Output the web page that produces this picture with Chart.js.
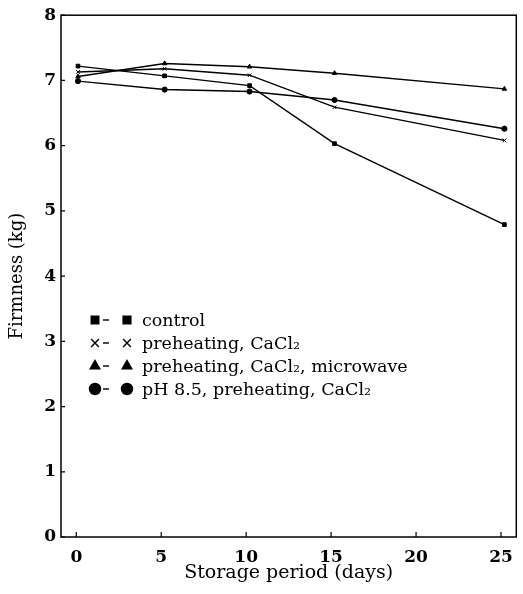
<!DOCTYPE html>
<html>
<head>
<meta charset="utf-8">
<script src="https://cdn.jsdelivr.net/npm/chart.js@4/dist/chart.umd.min.js"></script>
<style>
  html, body { margin: 0; padding: 0; background: #fff; }
  #wrap { width: 523px; height: 594px; }
</style>
</head>
<body>
<div id="wrap"><canvas id="firmness" width="523" height="594"></canvas></div>
<script>
// storage days where firmness was measured
const days = [0.1, 5.2, 10.2, 15.2, 25.2];

// firmness (kg) per treatment
const control = [7.22, 7.07, 6.92, 6.03, 4.79];
const preheatCaCl2 = [7.13, 7.18, 7.08, 6.59, 6.08];
const preheatMicrowave = [7.06, 7.26, 7.21, 7.11, 6.87];
const ph85 = [6.99, 6.86, 6.83, 6.70, 6.26];

const legendLabels = [
  'control',
  'preheating, CaCl\u2082',
  'preheating, CaCl\u2082, microwave',
  'pH 8.5, preheating, CaCl\u2082'
];
const markerStyles = ['rect', 'crossRot', 'triangle', 'circle'];

const xTicks = [0, 5, 10, 15, 20, 25];
const yTicks = [0, 1, 2, 3, 4, 5, 6, 7, 8];

const serif = '"DejaVu Serif", "Liberation Serif", serif';

const series = [control, preheatCaCl2, preheatMicrowave, ph85];

const datasets = series.map((vals, i) => ({
  label: legendLabels[i],
  data: vals.map((v, j) => ({ x: days[j], y: v })),
  borderColor: '#000',
  backgroundColor: '#000',
  borderWidth: 1.4,
  pointStyle: markerStyles[i],
  pointRadius: 2.6,
  pointBorderWidth: 1,
  tension: 0
}));

// box frame, inward ticks and the in-plot legend
const framePlugin = {
  id: 'frame',
  afterDraw(chart) {
    const ctx = chart.ctx;
    const a = chart.chartArea;
    const xs = chart.scales.x;
    const ys = chart.scales.y;
    ctx.save();
    ctx.strokeStyle = '#000';
    ctx.lineWidth = 1.5;
    ctx.strokeRect(a.left, a.top, a.right - a.left, a.bottom - a.top);

    ctx.lineWidth = 1.2;
    ctx.beginPath();
    xTicks.forEach(t => {
      const px = xs.getPixelForValue(t);
      ctx.moveTo(px, a.bottom);
      ctx.lineTo(px, a.bottom - 5);
    });
    yTicks.forEach(t => {
      const py = ys.getPixelForValue(t);
      ctx.moveTo(a.left, py);
      ctx.lineTo(a.left + 4, py);
    });
    ctx.stroke();

    // legend
    const lx = 95, rowY0 = 320, rowGap = 23;
    ctx.font = '17.5px ' + serif;
    ctx.textBaseline = 'middle';
    legendLabels.forEach((lab, i) => {
      const y = rowY0 + i * rowGap;
      const opts = { pointStyle: markerStyles[i], radius: 5.5, borderWidth: 1.5, rotation: 0 };
      ctx.fillStyle = '#000';
      ctx.strokeStyle = '#000';
      Chart.helpers.drawPoint(ctx, opts, lx, y);
      ctx.beginPath();
      ctx.lineWidth = 1.4;
      ctx.moveTo(lx + 8, y);
      ctx.lineTo(lx + 14, y);
      ctx.stroke();
      Chart.helpers.drawPoint(ctx, opts, lx + 32, y);
      ctx.fillText(lab, lx + 47, y + 1);
    });
    ctx.restore();
  }
};

new Chart(document.getElementById('firmness'), {
  type: 'line',
  data: { datasets: datasets },
  options: {
    responsive: false,
    animation: false,
    devicePixelRatio: 1,
    layout: { padding: { top: 12, right: 4, left: 0, bottom: 0 } },
    plugins: { legend: { display: false }, tooltip: { enabled: false } },
    scales: {
      x: {
        type: 'linear',
        min: -0.9,
        max: 25.9,
        afterFit(scale) { scale.height = 57; },
        afterBuildTicks(scale) { scale.ticks = xTicks.map(v => ({ value: v })); },
        grid: { display: false, drawTicks: false },
        border: { display: false },
        ticks: {
          padding: 10,
          color: '#000',
          font: { family: serif, size: 17, weight: 'bold' }
        },
        title: {
          display: true,
          text: 'Storage period (days)',
          color: '#000',
          padding: { top: 0, bottom: 10 },
          font: { family: serif, size: 19 }
        }
      },
      y: {
        min: 0,
        max: 8,
        afterFit(scale) { scale.width = 61; },
        afterBuildTicks(scale) { scale.ticks = yTicks.map(v => ({ value: v })); },
        grid: { display: false, drawTicks: false },
        border: { display: false },
        ticks: {
          padding: 5,
          color: '#000',
          font: { family: serif, size: 17, weight: 'bold' }
        },
        title: {
          display: true,
          text: 'Firmness (kg)',
          color: '#000',
          padding: { top: 7, bottom: 0 },
          font: { family: serif, size: 18 }
        }
      }
    }
  },
  plugins: [framePlugin]
});
</script>
</body>
</html>
